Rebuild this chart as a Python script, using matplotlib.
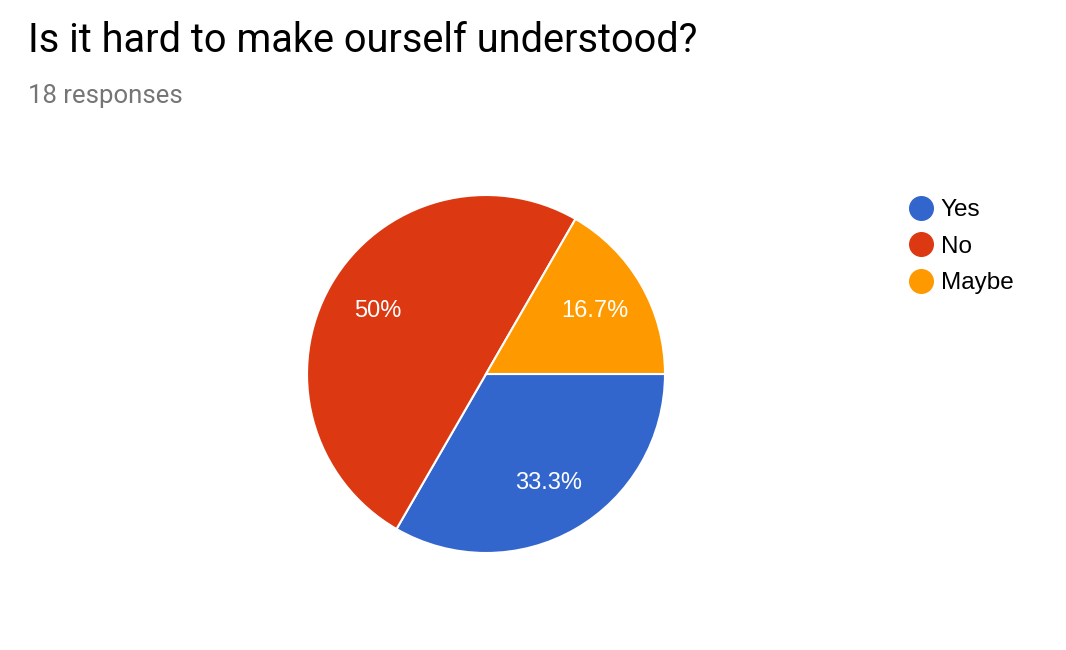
import matplotlib.pyplot as plt
from matplotlib.lines import Line2D

title = 'Is it hard to make ourself understood?'
subtitle = '18 responses'
labels = ['Yes', 'No', 'Maybe']
counts = [6, 9, 3]
colors = ['#3366cc', '#dc3912', '#ff9900']

plt.rcParams['font.family'] = ['Liberation Sans', 'DejaVu Sans']

fig = plt.figure(figsize=(10.66, 6.5), dpi=100)

# titles
fig.text(28 / 1066, 1 - 40 / 650, title, fontsize=28.6, family='Roboto',
         color='#000000', va='center', ha='left')
fig.text(28 / 1066, 1 - 96 / 650, subtitle, fontsize=18.5, family='Roboto',
         color='#757575', va='center', ha='left')

# pie, centre (486, 374) radius 179 px
cx, cy, r = 486, 374, 179
ax = fig.add_axes([(cx - r) / 1066, 1 - (cy + r) / 650, 2 * r / 1066, 2 * r / 650])


def fmt(p):
    s = f'{p:.1f}'
    if s.endswith('.0'):
        s = s[:-2]
    return s + '%'


wedges, texts, autotexts = ax.pie(
    counts, colors=colors, startangle=0, counterclock=False,
    autopct=fmt, pctdistance=0.7, radius=1,
    wedgeprops=dict(edgecolor='white', linewidth=1.5),
    textprops=dict(color='white', fontsize=17))
ax.set_xlim(-1, 1)
ax.set_ylim(-1, 1)
ax.axis('off')

# legend
handles = [Line2D([], [], marker='o', linestyle='none', markersize=17,
                  markerfacecolor=c, markeredgecolor=c) for c in colors]
fig.legend(handles, labels, loc='upper left',
           bbox_to_anchor=(897 / 1066, 1 - 187 / 650),
           frameon=False, fontsize=17.5, handletextpad=0.3,
           labelspacing=0.6, handlelength=1.0, borderpad=0)

fig.savefig('out.png', dpi=100)
